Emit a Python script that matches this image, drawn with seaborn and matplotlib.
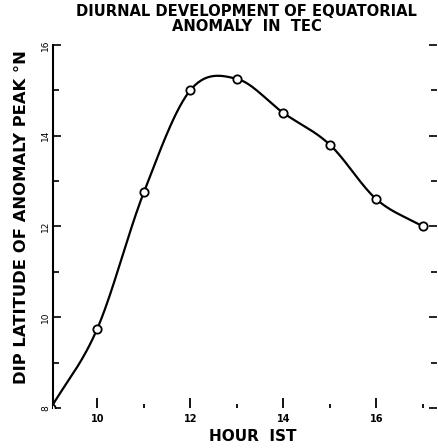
import numpy as np
import pandas as pd
import seaborn as sns
import matplotlib.pyplot as plt
from matplotlib.ticker import MultipleLocator, FixedLocator

sns.set_style("white")
plt.rcParams["font.family"] = ["DejaVu Sans"]
plt.rcParams["text.color"] = "black"
plt.rcParams["axes.labelcolor"] = "black"
plt.rcParams["xtick.color"] = "black"
plt.rcParams["ytick.color"] = "black"

# values
hour = [9, 10, 11, 12, 13, 14, 15, 16, 17]
dip_lat = [8.0, 9.75, 12.75, 15.0, 15.25, 14.5, 13.8, 12.6, 12.0]
x_ticks = [10, 12, 14, 16]
y_ticks = [8, 10, 12, 14, 16]


def smooth(x, y, n=30):
    # Catmull-Rom style cubic Hermite through the measured points (drawn curve only)
    x = np.asarray(x, float)
    y = np.asarray(y, float)
    m = np.gradient(y, x)
    xs, ys = [], []
    for i in range(len(x) - 1):
        h = x[i + 1] - x[i]
        t = np.linspace(0, 1, n, endpoint=(i == len(x) - 2))
        h00 = 2 * t**3 - 3 * t**2 + 1
        h10 = t**3 - 2 * t**2 + t
        h01 = -2 * t**3 + 3 * t**2
        h11 = t**3 - t**2
        xs.append(x[i] + t * h)
        ys.append(h00 * y[i] + h10 * h * m[i] + h01 * y[i + 1] + h11 * h * m[i + 1])
    return np.concatenate(xs), np.concatenate(ys)


df = pd.DataFrame({"hour": hour, "lat": dip_lat})
xs, ys = smooth(hour, dip_lat)
curve = pd.DataFrame({"hour": xs, "lat": ys})

fig = plt.figure(figsize=(4.39, 4.48), dpi=100, facecolor="w")
ax = fig.add_axes([0.121, 0.089, 0.874, 0.811])

sns.lineplot(data=curve, x="hour", y="lat", color="black", linewidth=1.6,
             sort=False, estimator=None, ax=ax)
sns.scatterplot(data=df, x="hour", y="lat", marker="o", s=36, facecolor="white",
                edgecolor="black", linewidth=1.3, zorder=3, ax=ax)

ax.set_xlim(9.05, 17.3)
ax.set_ylim(8, 16)

for s in ["top", "bottom", "right"]:
    ax.spines[s].set_visible(False)
ax.spines["left"].set_color("black")
ax.spines["left"].set_linewidth(1.5)

ax.xaxis.set_major_locator(FixedLocator(x_ticks))
ax.xaxis.set_minor_locator(FixedLocator([11, 13, 15, 17]))
ax.yaxis.set_major_locator(FixedLocator(y_ticks))
ax.yaxis.set_minor_locator(MultipleLocator(1))
ax.set_xticklabels([str(t) for t in x_ticks], fontsize=7, fontweight="bold")
ax.set_yticklabels([str(t) for t in y_ticks], fontsize=6.5, rotation=90, va="center")

ax.tick_params(axis="x", which="both", direction="in", bottom=True,
               width=1.3, pad=4)
ax.tick_params(axis="x", which="major", length=7)
ax.tick_params(axis="x", which="minor", length=3)
ax.tick_params(axis="y", which="both", direction="in", left=True, right=True,
               width=1.2, pad=2)
ax.tick_params(axis="y", which="major", length=6)
ax.tick_params(axis="y", which="minor", length=4)

ax.set_xlabel("HOUR  IST", fontsize=11, fontweight="bold")
ax.xaxis.set_label_coords(0.52, -0.058)
ax.set_ylabel("DIP LATITUDE OF ANOMALY PEAK \u00b0N", fontsize=11.8, fontweight="bold")
ax.yaxis.set_label_coords(-0.064, 0.525)
ax.set_title("DIURNAL DEVELOPMENT OF EQUATORIAL\nANOMALY  IN  TEC", fontsize=10.6,
             fontweight="bold", linespacing=1.0, pad=10, x=0.505)

fig.savefig("out.png", dpi=100, facecolor="w")
